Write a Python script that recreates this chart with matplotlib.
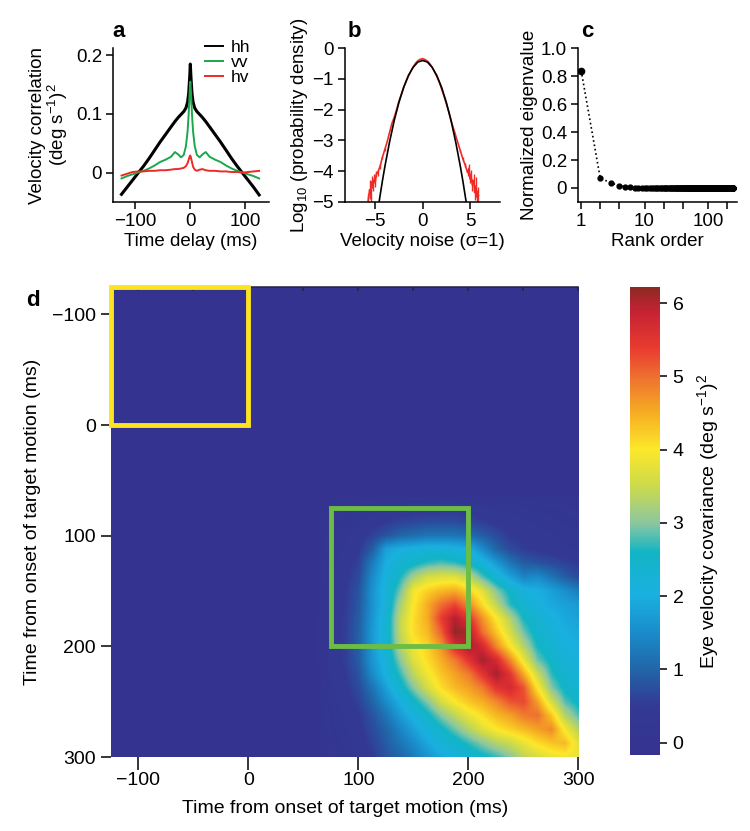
"""Eye velocity noise: correlations, noise distribution, eigenvalues, covariance."""

import numpy as np
import matplotlib

matplotlib.use("agg")
import matplotlib.pyplot as plt
from matplotlib.colors import LinearSegmentedColormap
from matplotlib.patches import Rectangle
from matplotlib import rcParams

rcParams["font.family"] = ["Liberation Sans", "DejaVu Sans"]
rcParams["mathtext.fontset"] = "custom"
rcParams["mathtext.rm"] = "Liberation Sans"
rcParams["mathtext.it"] = "Liberation Sans:italic"
rcParams["font.size"] = 12
rcParams["axes.linewidth"] = 1.1
rcParams["xtick.major.width"] = 1.1
rcParams["ytick.major.width"] = 1.1
rcParams["xtick.major.size"] = 5
rcParams["ytick.major.size"] = 5

# ---- panel a: velocity correlation vs time delay
lag_ms = [-125, -115, -105, -95, -85, -75, -65, -55, -45, -35, -28, -22, -17, -12, -8, -5,
          -3, -1, 0, 1, 3, 5, 8, 12, 17, 22, 28, 35, 45, 55, 65, 75, 85, 95, 105, 115, 125]
corr_hh = [-0.037, -0.025, -0.013, -0.001, 0.011, 0.024, 0.038, 0.052, 0.065, 0.078,
           0.087, 0.094, 0.099, 0.104, 0.11, 0.12, 0.135, 0.165, 0.185, 0.165, 0.135,
           0.12, 0.11, 0.104, 0.099, 0.094, 0.087, 0.078, 0.065, 0.052, 0.038, 0.024,
           0.011, -0.001, -0.013, -0.025, -0.038]
corr_vv = [-0.010, -0.006, -0.003, 0.000, 0.003, 0.007, 0.012, 0.018, 0.022, 0.027,
           0.035, 0.031, 0.026, 0.030, 0.045, 0.07, 0.1, 0.14, 0.155, 0.14, 0.1,
           0.07, 0.045, 0.030, 0.026, 0.031, 0.035, 0.027, 0.022, 0.018, 0.012, 0.007,
           0.003, 0.000, -0.003, -0.006, -0.010]
corr_hv = [-0.005, -0.002, 0.001, 0.002, 0.002, 0.003, 0.003, 0.004, 0.004, 0.005,
           0.006, 0.006, 0.007, 0.008, 0.011, 0.016, 0.022, 0.028, 0.029, 0.026, 0.018,
           0.010, 0.005, 0.003, 0.005, 0.006, 0.004, 0.003, 0.003, 0.002, 0.002, 0.001,
           0.001, 0.000, 0.001, 0.002, 0.003]

# ---- panel b: log10 probability density of velocity noise
gauss_x = [-4.6, -4.25, -4.0, -3.5, -3.0, -2.5, -2.0, -1.5, -1.0, -0.5, 0.0,
           0.5, 1.0, 1.5, 2.0, 2.5, 3.0, 3.5, 4.0, 4.25, 4.6]
gauss_logp = [-5.0, -4.32, -3.87, -3.06, -2.35, -1.76, -1.27, -0.89, -0.62, -0.45, -0.40,
              -0.45, -0.62, -0.89, -1.27, -1.76, -2.35, -3.06, -3.87, -4.32, -5.0]
noise_x = [-5.75, -5.6, -5.5, -5.4, -5.25, -5.1, -5.0, -4.9, -4.75, -4.5, -4.25, -4.0,
           -3.75, -3.5, -3.25, -3.0, -2.75, -2.5, -2.25, -2.0, -1.75, -1.5, -1.25,
           -1.0, -0.75, -0.5, -0.25, 0.0, 0.25, 0.5, 0.75, 1.0, 1.25, 1.5, 1.75,
           2.0, 2.25, 2.5, 2.75, 3.0, 3.25, 3.5, 3.75, 4.0, 4.25, 4.5, 4.75, 4.9,
           5.0, 5.1, 5.25, 5.4, 5.5, 5.6, 5.75, 5.9]
noise_logp = [-4.95, -4.6, -4.75, -4.35, -4.45, -4.25, -4.35, -4.1, -4.05, -3.85, -3.55,
              -3.3, -3.05, -2.75, -2.45, -2.25, -2.0, -1.72, -1.5, -1.28, -1.08, -0.9,
              -0.75, -0.61, -0.49, -0.41, -0.36, -0.34, -0.37, -0.42, -0.5, -0.62,
              -0.76, -0.92, -1.1, -1.32, -1.55, -1.8, -2.05, -2.35, -2.6, -2.85, -3.1,
              -3.35, -3.6, -3.8, -4.05, -3.9, -4.25, -4.1, -4.45, -4.3, -4.7, -4.5,
              -4.85, -4.8]
noise_err = ([0.2, 0.3, 0.25, 0.2, 0.2, 0.15, 0.15, 0.1, 0.1, 0.08, 0.05, 0.04]
             + [0.0] * 31
             + [0.04, 0.05, 0.08, 0.1, 0.12, 0.15, 0.15, 0.2, 0.2, 0.25, 0.3, 0.25, 0.3])

# ---- panel c: normalized eigenvalues by rank
eig_vals = [0.84, 0.07, 0.035, 0.016, 0.008, 0.005, 0.003, 0.002, 0.0015, 0.001] + [0.0] * 240

# ---- panel d: covariance (deg/s)^2 on a 12.5 ms grid; rows = y time, cols = x time
# times before 75 ms are ~0 and get padded in below
cov_t = [75, 87.5, 100, 112.5, 125, 137.5, 150, 162.5, 175, 187.5, 200, 212.5, 225,
         237.5, 250, 262.5, 275, 287.5, 300]
cov_t_start = -125
cov_block = [
    [0.10, 0.15, 0.20, 0.25, 0.30, 0.35, 0.40, 0.40, 0.45, 0.45, 0.40, 0.35, 0.30, 0.30, 0.25, 0.20, 0.20, 0.15, 0.10],
    [0.15, 0.20, 0.30, 0.40, 0.50, 0.60, 0.65, 0.70, 0.70, 0.70, 0.65, 0.55, 0.45, 0.40, 0.35, 0.30, 0.25, 0.20, 0.20],
    [0.20, 0.30, 0.40, 0.60, 0.80, 1.00, 1.10, 1.20, 1.20, 1.20, 1.10, 0.90, 0.70, 0.50, 0.45, 0.40, 0.35, 0.30, 0.25],
    [0.25, 0.35, 0.50, 0.90, 1.80, 2.00, 2.10, 2.20, 2.20, 2.10, 2.00, 1.50, 1.00, 0.70, 0.55, 0.45, 0.40, 0.35, 0.30],
    [0.30, 0.40, 0.60, 1.30, 2.00, 2.30, 2.50, 2.70, 2.80, 2.70, 2.50, 2.20, 1.70, 1.20, 0.90, 0.80, 0.70, 0.60, 0.50],
    [0.30, 0.45, 0.70, 1.50, 2.10, 2.60, 3.20, 3.60, 3.70, 3.70, 3.40, 2.80, 2.30, 1.80, 1.40, 1.50, 1.20, 0.90, 0.70],
    [0.35, 0.50, 0.80, 1.60, 2.20, 2.90, 3.90, 4.20, 4.40, 4.50, 4.20, 3.70, 3.00, 2.50, 2.10, 2.00, 1.80, 1.55, 1.30],
    [0.35, 0.50, 0.85, 1.60, 2.20, 3.20, 4.00, 4.50, 5.00, 5.30, 4.80, 4.10, 3.40, 2.70, 2.30, 2.10, 1.90, 1.80, 1.70],
    [0.40, 0.55, 0.90, 1.65, 2.30, 3.40, 4.10, 4.50, 5.40, 6.00, 5.50, 4.70, 4.00, 3.30, 2.60, 2.30, 2.10, 1.90, 1.80],
    [0.40, 0.55, 0.95, 1.70, 2.30, 3.40, 4.10, 4.40, 5.10, 6.20, 6.00, 5.00, 4.30, 3.60, 2.90, 2.40, 2.20, 2.00, 1.90],
    [0.40, 0.55, 0.95, 1.70, 2.30, 3.30, 3.90, 4.20, 4.70, 5.60, 6.10, 5.70, 4.80, 4.00, 3.30, 2.60, 2.30, 2.10, 2.00],
    [0.40, 0.55, 0.90, 1.65, 2.20, 3.00, 3.70, 4.10, 4.50, 4.90, 5.50, 6.10, 5.70, 4.80, 3.80, 2.90, 2.50, 2.20, 2.10],
    [0.35, 0.50, 0.80, 1.50, 2.10, 2.70, 3.40, 3.90, 4.30, 4.60, 4.90, 5.50, 6.10, 5.50, 4.50, 3.50, 2.70, 2.30, 2.20],
    [0.30, 0.45, 0.70, 1.20, 1.80, 2.40, 3.00, 3.60, 4.10, 4.40, 4.60, 4.90, 5.50, 5.70, 5.20, 4.00, 3.00, 2.50, 2.30],
    [0.25, 0.40, 0.60, 1.00, 1.50, 2.00, 2.50, 3.00, 3.60, 4.00, 4.30, 4.50, 4.80, 5.20, 5.30, 4.60, 3.60, 2.80, 2.50],
    [0.20, 0.35, 0.50, 0.80, 1.20, 1.70, 2.10, 2.50, 3.00, 3.40, 3.80, 4.10, 4.40, 4.60, 4.90, 5.00, 4.30, 3.30, 2.80],
    [0.20, 0.30, 0.45, 0.70, 1.00, 1.40, 1.80, 2.20, 2.50, 2.90, 3.30, 3.70, 4.00, 4.20, 4.40, 4.60, 4.80, 3.90, 3.30],
    [0.15, 0.25, 0.40, 0.60, 0.90, 1.20, 1.50, 1.90, 2.20, 2.40, 2.70, 3.00, 3.30, 3.50, 3.80, 4.10, 4.30, 4.40, 3.70],
    [0.15, 0.20, 0.35, 0.50, 0.80, 1.00, 1.30, 1.60, 1.90, 2.10, 2.30, 2.50, 2.70, 3.00, 3.40, 3.60, 3.80, 3.90, 3.80],
]

cmap_stops = [
    (0.00, "#35338f"), (0.105, "#333a94"), (0.183, "#2166a8"), (0.261, "#1a8ccb"),
    (0.340, "#1ab0e0"), (0.433, "#12b5c5"), (0.496, "#8cc7a0"), (0.574, "#cbda4c"),
    (0.653, "#fde82a"), (0.731, "#f6ae22"), (0.809, "#ee7030"), (0.872, "#e93a30"),
    (0.950, "#c42233"), (1.00, "#8e2a22"),
]
cov_cmap = LinearSegmentedColormap.from_list("cov", cmap_stops, N=256)

fig = plt.figure(figsize=(7.5, 8.31), dpi=100)


def style_small(ax):
    for side in ["top", "right"]:
        ax.spines[side].set_visible(False)
    ax.tick_params(direction="out", labelsize=13.5, pad=3)


# panel a
ax1 = fig.add_axes([0.151, 0.757, 0.207, 0.185])
style_small(ax1)
ax1.plot(lag_ms, corr_hh, color="black", lw=2.2, label="hh")
ax1.plot(lag_ms, corr_vv, color="#19a84b", lw=1.4, label="vv")
ax1.plot(lag_ms, corr_hv, color="#ee2a27", lw=1.4, label="hv")
ax1.set_xlim(-140, 142)
ax1.set_ylim(-0.05, 0.212)
ax1.set_xticks([-100, 0, 100])
ax1.set_yticks([0, 0.1, 0.2])
ax1.set_yticklabels(["0", "0.1", "0.2"])
ax1.set_xlabel("Time delay (ms)", fontsize=13.5, labelpad=2)
ax1.set_ylabel("Velocity correlation\n(deg s$^{-1}$)$^2$", fontsize=13.5, labelpad=4,
               linespacing=1.0)
leg = ax1.legend(loc="upper right", bbox_to_anchor=(0.93, 1.1), frameon=False,
                 handlelength=1.0, handletextpad=0.5, labelspacing=0.0, fontsize=12.5,
                 borderaxespad=0.0)
for line in leg.get_lines():
    line.set_linewidth(1.4)

# panel b
ax2 = fig.add_axes([0.46, 0.757, 0.207, 0.185])
style_small(ax2)
ax2.errorbar(noise_x, noise_logp, yerr=noise_err, fmt="none", ecolor="#ee2a27",
             elinewidth=1.0, capsize=0)
ax2.plot(noise_x, noise_logp, color="#ee2a27", lw=1.2)
ax2.plot(gauss_x, gauss_logp, color="black", lw=1.2)
ax2.set_xlim(-8.2, 8.2)
ax2.set_ylim(-5, 0)
ax2.set_xticks([-5, 0, 5])
ax2.set_yticks([0, -1, -2, -3, -4, -5])
ax2.set_xlabel("Velocity noise (\u03c3=1)", fontsize=13.5, labelpad=2)
ax2.set_ylabel("Log$_{10}$ (probability density)", fontsize=13.5, labelpad=2)

# panel c
ax3 = fig.add_axes([0.771, 0.757, 0.212, 0.185])
style_small(ax3)
ranks = np.arange(1, len(eig_vals) + 1)
ax3.plot(ranks, eig_vals, color="black", ls=":", lw=1.2)
ax3.plot(ranks[:1], eig_vals[:1], "o", color="black", ms=4.5)
ax3.plot(ranks[1:], eig_vals[1:], "o", color="black", ms=3.5)
ax3.set_xscale("log")
ax3.set_xlim(0.9, 290)
ax3.set_ylim(-0.1, 1.0)
ax3.set_xticks([1, 2, 4, 10, 20, 40, 100, 200])
ax3.set_xticklabels(["1", "", "", "10", "", "", "100", ""])
ax3.xaxis.set_minor_locator(matplotlib.ticker.NullLocator())
ax3.set_yticks([0, 0.2, 0.4, 0.6, 0.8, 1.0])
ax3.set_yticklabels(["0", "0.2", "0.4", "0.6", "0.8", "1.0"])
ax3.set_xlabel("Rank order", fontsize=13.5, labelpad=2)
ax3.set_ylabel("Normalized eigenvalue", fontsize=13.5, labelpad=2)

# panel d
step = cov_t[1] - cov_t[0]
n_pad = int(round((cov_t[0] - cov_t_start) / step))
cov_full = np.pad(np.array(cov_block), ((n_pad, 0), (n_pad, 0)))
half = step / 2.0

ax4 = fig.add_axes([0.148, 0.089, 0.623, 0.566])
im = ax4.imshow(cov_full, cmap=cov_cmap, vmin=-0.17, vmax=6.22, interpolation="bilinear",
                interpolation_stage="data",
                extent=[cov_t_start - half, cov_t[-1] + half, cov_t[-1] + half, cov_t_start - half],
                aspect="auto")
ax4.set_xlim(-125, 300)
ax4.set_ylim(300, -125)
for side in ["right", "left", "bottom"]:
    ax4.spines[side].set_visible(False)
ax4.spines["top"].set_color("#222244")
ax4.set_xticks([-100, 0, 100, 200, 300])
ax4.set_yticks([-100, 0, 100, 200, 300])
ax4.set_yticklabels(["\u2212100", "0", "100", "200", "300"])
ax4.tick_params(direction="out", labelsize=14, length=7, pad=4)
ax4.tick_params(axis="x", length=9, pad=2)
ax4.set_xlabel("Time from onset of target motion (ms)", fontsize=14, labelpad=8)
ax4.set_ylabel("Time from onset of target motion (ms)", fontsize=14, labelpad=8)

# top edge ticks every 50 ms pointing in
ax4t = ax4.secondary_xaxis("top")
ax4t.set_xticks(list(range(-100, 301, 50)))
ax4t.tick_params(direction="in", length=3, labeltop=False, color="#222244")
ax4t.spines["top"].set_visible(False)

ax4.add_patch(Rectangle((-125, -125), 125, 125, fill=False, ec="#fde41f", lw=3.5,
                        clip_on=False, zorder=5))
ax4.add_patch(Rectangle((75, 75), 125, 125, fill=False, ec="#6dbd45", lw=3.5, zorder=5))

cax = fig.add_axes([0.84, 0.0915, 0.04, 0.563])
cb = fig.colorbar(im, cax=cax)
cb.outline.set_visible(False)
cb.set_ticks([0, 1, 2, 3, 4, 5, 6])
cb.ax.tick_params(labelsize=14, length=5, pad=4)
cb.set_label("Eye velocity covariance (deg s$^{-1}$)$^2$", fontsize=14, labelpad=8)

# panel letters
for txt, xx, yy in [("a", 0.15, 0.962), ("b", 0.463, 0.962), ("c", 0.775, 0.962),
                    ("d", 0.035, 0.638)]:
    fig.text(xx, yy, txt, fontsize=16, fontweight="bold", ha="left", va="center")

plt.savefig("out.png", dpi=100)
plt.close(fig)
